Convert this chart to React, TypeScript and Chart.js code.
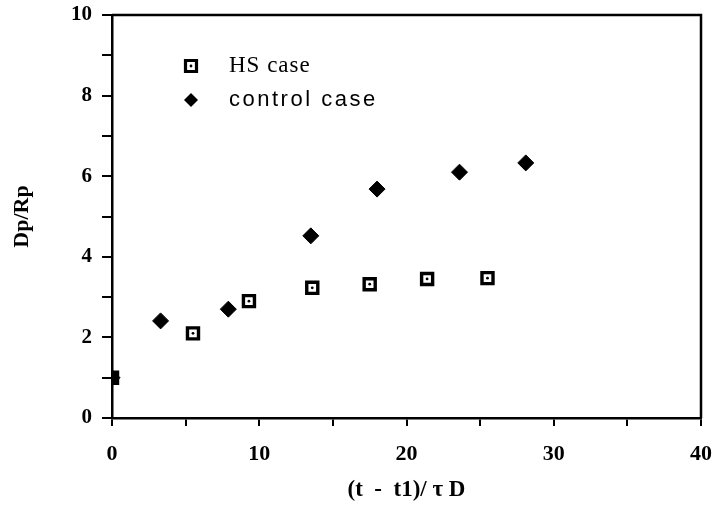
import React, { useEffect, useRef } from "react";
import { Chart, registerables } from "chart.js";

Chart.register(...registerables);

const hsX = [0, 5.5, 9.3, 13.6, 17.5, 21.4, 25.5];
const hsY = [1.0, 2.1, 2.9, 3.23, 3.32, 3.45, 3.47];
const ctrlX = [0, 3.3, 7.9, 13.5, 18.0, 23.6, 28.1];
const ctrlY = [1.0, 2.41, 2.7, 4.52, 5.68, 6.1, 6.33];

const legendLabels = ["HS case", "control case"];
const xTitle = "(t  -  t1)/ τ D";
const yTitle = "Dp/Rp";

const toPts = (xs: number[], ys: number[]) => xs.map((x, i) => ({ x, y: ys[i] }));

const framePlugin = {
  id: "frame",
  afterDraw(chart: any) {
    const { ctx, chartArea } = chart;
    const { left, right, top, bottom } = chartArea;
    ctx.save();
    ctx.strokeStyle = "#000";
    ctx.lineWidth = 2.5;
    ctx.beginPath();
    ctx.moveTo(left, top);
    ctx.lineTo(right, top);
    ctx.lineTo(right, bottom);
    ctx.stroke();

    // legend
    const mx = left + 79;
    const y1 = top + 51;
    const y2 = top + 85;
    ctx.lineWidth = 3.2;
    ctx.fillStyle = "#fff";
    ctx.beginPath();
    ctx.rect(mx - 5.5, y1 - 5.5, 11, 11);
    ctx.fill();
    ctx.stroke();
    ctx.fillStyle = "#000";
    ctx.beginPath();
    ctx.arc(mx, y1, 1.4, 0, Math.PI * 2);
    ctx.fill();
    ctx.beginPath();
    ctx.moveTo(mx, y2 - 7);
    ctx.lineTo(mx + 7, y2);
    ctx.lineTo(mx, y2 + 7);
    ctx.lineTo(mx - 7, y2);
    ctx.closePath();
    ctx.fill();

    ctx.textBaseline = "middle";
    ctx.textAlign = "left";
    (ctx as any).letterSpacing = "1px";
    ctx.font = "23px 'Liberation Serif'";
    ctx.fillText(legendLabels[0], mx + 38, y1);
    (ctx as any).letterSpacing = "2.5px";
    ctx.font = "22px 'Liberation Sans'";
    ctx.fillText(legendLabels[1], mx + 38, y2);
    (ctx as any).letterSpacing = "0px";
    ctx.restore();
  },
};

export default function App() {
  const ref = useRef<HTMLCanvasElement | null>(null);

  useEffect(() => {
    document.body.style.margin = "0";
    if (!ref.current) return;
    const chart = new Chart(ref.current, {
      type: "scatter",
      data: {
        datasets: [
          {
            label: legendLabels[0],
            data: toPts(hsX, hsY),
            order: 2,
            pointStyle: "rect",
            pointRadius: 7.8,
            pointBorderWidth: 3.4,
            borderColor: "#000",
            backgroundColor: "#fff",
          },
          {
            label: legendLabels[0] + " center",
            data: toPts(hsX, hsY),
            order: 1,
            pointStyle: "circle",
            pointRadius: 1.4,
            pointBorderWidth: 0,
            borderColor: "#000",
            backgroundColor: "#000",
          },
          {
            label: legendLabels[1],
            data: toPts(ctrlX, ctrlY),
            order: 0,
            pointStyle: "rectRot",
            pointRadius: 8,
            pointBorderWidth: 1,
            borderColor: "#000",
            backgroundColor: "#000",
          },
        ],
      },
      options: {
        animation: false,
        responsive: false,
        layout: { padding: { top: 15, right: 19, left: 0, bottom: 0 } },
        plugins: { legend: { display: false }, tooltip: { enabled: false } },
        scales: {
          x: {
            type: "linear",
            min: 0,
            max: 40,
            afterFit: (s: any) => {
              s.height = 91;
              s.paddingLeft = 0;
              s.paddingRight = 0;
            },
            ticks: {
              stepSize: 5,
              color: "#000",
              padding: 15,
              maxRotation: 0,
              autoSkip: false,
              font: { family: "'Liberation Serif'", size: 22, weight: "bold" },
              callback: (v: any) => (Number(v) % 10 === 0 ? String(v) : ""),
            },
            grid: {
              drawOnChartArea: false,
              drawTicks: true,
              tickLength: 8,
              color: "#000",
              lineWidth: 2,
            },
            border: { display: true, color: "#000", width: 2.5 },
            title: {
              display: true,
              text: xTitle,
              color: "#000",
              font: { family: "'Liberation Serif'", size: 23, weight: "bold" },
              padding: { top: 0, bottom: 5 },
            },
          },
          y: {
            type: "linear",
            min: 0,
            max: 10,
            afterFit: (s: any) => {
              s.width = 112;
              s.paddingTop = 0;
              s.paddingBottom = 0;
            },
            ticks: {
              stepSize: 1,
              color: "#000",
              padding: 10,
              autoSkip: false,
              font: { family: "'Liberation Serif'", size: 21, weight: "bold" },
              callback: (v: any) => (Number(v) % 2 === 0 ? String(v) : ""),
            },
            grid: {
              drawOnChartArea: false,
              drawTicks: true,
              tickLength: 10,
              color: "#000",
              lineWidth: 2,
            },
            border: { display: true, color: "#000", width: 2.5 },
            title: {
              display: true,
              text: yTitle,
              color: "#000",
              font: { family: "'Liberation Serif'", size: 22, weight: "bold" },
              padding: { top: 9, bottom: 0 },
            },
          },
        },
      },
      plugins: [framePlugin],
    });
    return () => chart.destroy();
  }, []);

  return (
    <div style={{ width: 720, height: 509, background: "#fff" }}>
      <canvas ref={ref} width={720} height={509} style={{ display: "block" }} />
    </div>
  );
}
